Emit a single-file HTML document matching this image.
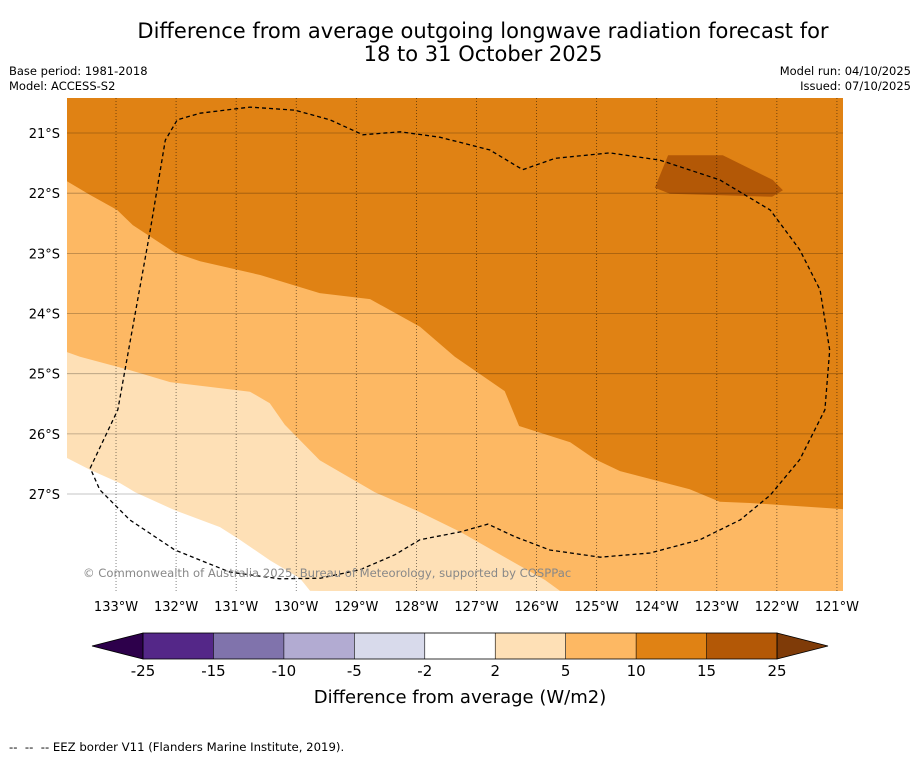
<!DOCTYPE html>
<html><head><meta charset="utf-8">
<style>
body{margin:0;background:#fff;font-family:"Liberation Sans","DejaVu Sans",sans-serif;}
svg text{font-family:"DejaVu Sans","Liberation Sans",sans-serif;}
</style></head>
<body>
<svg id="chart" width="919" height="758" viewBox="0 0 919 758" xmlns="http://www.w3.org/2000/svg">
<rect width="919" height="758" fill="#fff"/>
<text x="483" y="38" font-size="21" text-anchor="middle">Difference from average outgoing longwave radiation forecast for</text>
<text x="483" y="61" font-size="21" text-anchor="middle">18 to 31 October 2025</text>
<text x="9" y="75" font-size="11.5">Base period: 1981-2018</text>
<text x="9" y="90" font-size="11.5">Model: ACCESS-S2</text>
<text x="911" y="75" font-size="11.5" text-anchor="end">Model run: 04/10/2025</text>
<text x="911" y="90" font-size="11.5" text-anchor="end">Issued: 07/10/2025</text>
<defs><clipPath id="mapclip"><rect x="67" y="98" width="776" height="493"/></clipPath></defs>
<g id="map" clip-path="url(#mapclip)"></g>
<g id="axes"></g>
<text x="83" y="577" font-size="11.6" fill="#888">© Commonwealth of Australia 2025, Bureau of Meteorology, supported by COSPPac</text>
<g id="cbar"></g>
<text x="460" y="703" font-size="18" text-anchor="middle">Difference from average (W/m2)</text>
<text x="9" y="751" font-size="11.7">--&#160;&#160;--&#160;&#160;-- EEZ border V11 (Flanders Marine Institute, 2019).</text>
</svg>
<script>
// ---- data ----
const lonTicks=[-133,-132,-131,-130,-129,-128,-127,-126,-125,-124,-123,-122,-121];
const latTicks=[-21,-22,-23,-24,-25,-26,-27];
const lonTickLabels=["133°W","132°W","131°W","130°W","129°W","128°W","127°W","126°W","125°W","124°W","123°W","122°W","121°W"];
const latTickLabels=["21°S","22°S","23°S","24°S","25°S","26°S","27°S"];
const cbarLevels=[-25,-15,-10,-5,-2,2,5,10,15,25];
const cbarLabels=["-25","-15","-10","-5","-2","2","5","10","15","25"];
const cbarColors=["#542788","#8073ac","#b2abd2","#d8daeb","#ffffff","#fee0b6","#fdb863","#e08214","#b35806"];
const extendColors=["#2d004b","#7f3b08"];
// contour boundaries (lon, -lat)
const c10Lon=[-133.82,-133.43,-132.98,-132.72,-132.02,-131.60,-130.60,-129.61,-128.77,-127.94,-127.36,-126.53,-126.29,-125.44,-125.03,-124.61,-123.45,-122.95,-122.45,-120.90];
const c10Lat=[-21.80,-22.03,-22.28,-22.53,-22.99,-23.13,-23.36,-23.66,-23.76,-24.22,-24.72,-25.29,-25.87,-26.14,-26.42,-26.62,-26.92,-27.13,-27.15,-27.25];
const c5Lon=[-133.82,-133.60,-132.77,-132.10,-130.77,-130.44,-130.19,-129.61,-128.69,-127.94,-127.27,-126.44,-125.86,-125.61];
const c5Lat=[-24.64,-24.72,-24.94,-25.14,-25.30,-25.49,-25.85,-26.44,-26.97,-27.30,-27.63,-28.10,-28.43,-28.61];
const c2Lon=[-133.82,-133.43,-132.93,-132.68,-132.02,-131.27,-130.94,-130.44,-129.94,-129.77];
const c2Lat=[-26.40,-26.60,-26.82,-26.97,-27.27,-27.55,-27.76,-28.10,-28.40,-28.61];
const c15Lon=[-124.03,-123.81,-122.90,-122.07,-121.90,-122.08,-123.78];
const c15Lat=[-21.91,-21.37,-21.37,-21.78,-21.95,-22.06,-22.01];
const eezLon=[-133.43,-132.97,-132.43,-132.18,-131.98,-131.60,-130.77,-130.02,-129.44,-128.89,-128.27,-127.61,-126.78,-126.23,-125.69,-124.78,-123.95,-122.95,-122.11,-121.62,-121.28,-121.12,-121.20,-121.62,-122.11,-122.61,-123.28,-124.11,-124.94,-125.78,-126.36,-126.81,-127.27,-127.94,-128.36,-128.94,-129.60,-130.27,-131.10,-132.02,-132.77,-133.27,-133.43];
const eezLat=[-26.57,-25.60,-22.61,-21.12,-20.78,-20.67,-20.57,-20.62,-20.78,-21.03,-20.98,-21.07,-21.28,-21.61,-21.42,-21.33,-21.45,-21.78,-22.28,-22.94,-23.61,-24.61,-25.60,-26.43,-27.02,-27.43,-27.76,-27.98,-28.05,-27.93,-27.71,-27.50,-27.63,-27.76,-28.01,-28.26,-28.40,-28.41,-28.30,-27.93,-27.43,-26.93,-26.57];
// ---- axes ----
const LON0=-133.816,LON1=-120.899,LAT0=-20.418,LAT1=-28.612;
const X0=67,X1=843,Y0=98,Y1=591;
function xs(lon){return X0+(lon-LON0)/(LON1-LON0)*(X1-X0);}
function ys(lat){return Y0+(lat-LAT0)/(LAT1-LAT0)*(Y1-Y0);}
const NS="http://www.w3.org/2000/svg";
function mk(tag,attrs,parent){const e=document.createElementNS(NS,tag);for(const k in attrs)e.setAttribute(k,attrs[k]);parent.appendChild(e);return e;}
function pts(lons,lats){return lons.map((l,i)=>xs(l).toFixed(1)+","+ys(lats[i]).toFixed(1));}
const map=document.getElementById('map');
let r=mk('rect',{x:X0,y:Y0,width:X1-X0,height:Y1-Y0,fill:cbarColors[7]},map);


function fillBelow(lons,lats,color,name){
  const p=pts(lons,lats);
  p.push(X1+5+","+(Y1+5));p.push((X0-5)+","+(Y1+5));
  const e=mk('polygon',{points:p.join(" "),fill:color},map);
  
  
}
fillBelow(c10Lon,c10Lat,cbarColors[6],'region-5-to-10');
fillBelow(c5Lon,c5Lat,cbarColors[5],'region-2-to-5');
fillBelow(c2Lon,c2Lat,cbarColors[4],'region-minus2-to-2');
let d=mk('polygon',{points:pts(c15Lon,c15Lat).join(" "),fill:cbarColors[8]},map);


lonTicks.forEach((lo,i)=>{
  const g=mk('line',{x1:xs(lo),x2:xs(lo),y1:Y0,y2:Y1,stroke:"#000","stroke-width":0.8,"stroke-dasharray":"1,2","stroke-opacity":0.6},map);
  
  
});
latTicks.forEach((la,i)=>{
  const g=mk('line',{x1:X0,x2:X1,y1:ys(la),y2:ys(la),stroke:"#000","stroke-width":0.8,"stroke-opacity":0.3},map);
  
  
});
let eez=mk('polyline',{points:pts(eezLon,eezLat).join(" "),fill:"none",stroke:"#000","stroke-width":1.3,"stroke-dasharray":"4,3"},map);


const axes=document.getElementById('axes');
lonTicks.forEach((lo,i)=>{
  const t=mk('text',{x:xs(lo),y:611,"font-size":13,"text-anchor":"middle"},axes);
  t.textContent=lonTickLabels[i];
  
  
});
latTicks.forEach((la,i)=>{
  const t=mk('text',{x:60,y:ys(la)+5,"font-size":13,"text-anchor":"end"},axes);
  t.textContent=latTickLabels[i];
  
  
});
const cb=document.getElementById('cbar');
const CB0=143,CB1=777,CBY=633,CBH=26;
const cw=(CB1-CB0)/(cbarColors.length);
function cx(i){return CB0+i*cw;}
let lt=mk('polygon',{points:`${CB0},${CBY} ${CB0},${CBY+CBH} 92,${CBY+CBH/2}`,fill:extendColors[0],stroke:"#000","stroke-width":0.8},cb);


let rt=mk('polygon',{points:`${CB1},${CBY} ${CB1},${CBY+CBH} 828,${CBY+CBH/2}`,fill:extendColors[1],stroke:"#000","stroke-width":0.8},cb);


cbarColors.forEach((c,i)=>{
  const b=mk('rect',{x:cx(i),y:CBY,width:cw,height:CBH,fill:c},cb);
  
  
});
cbarLevels.forEach((v,i)=>{
  mk('line',{x1:cx(i),x2:cx(i),y1:CBY,y2:CBY+CBH,stroke:"#000","stroke-width":0.6},cb);
  const t=mk('text',{x:cx(i),y:676,"font-size":15,"text-anchor":"middle"},cb);
  t.textContent=cbarLabels[i];
  
  
});
mk('rect',{x:CB0,y:CBY,width:CB1-CB0,height:CBH,fill:"none",stroke:"#000","stroke-width":0.8},cb);
</script>
</body></html>
